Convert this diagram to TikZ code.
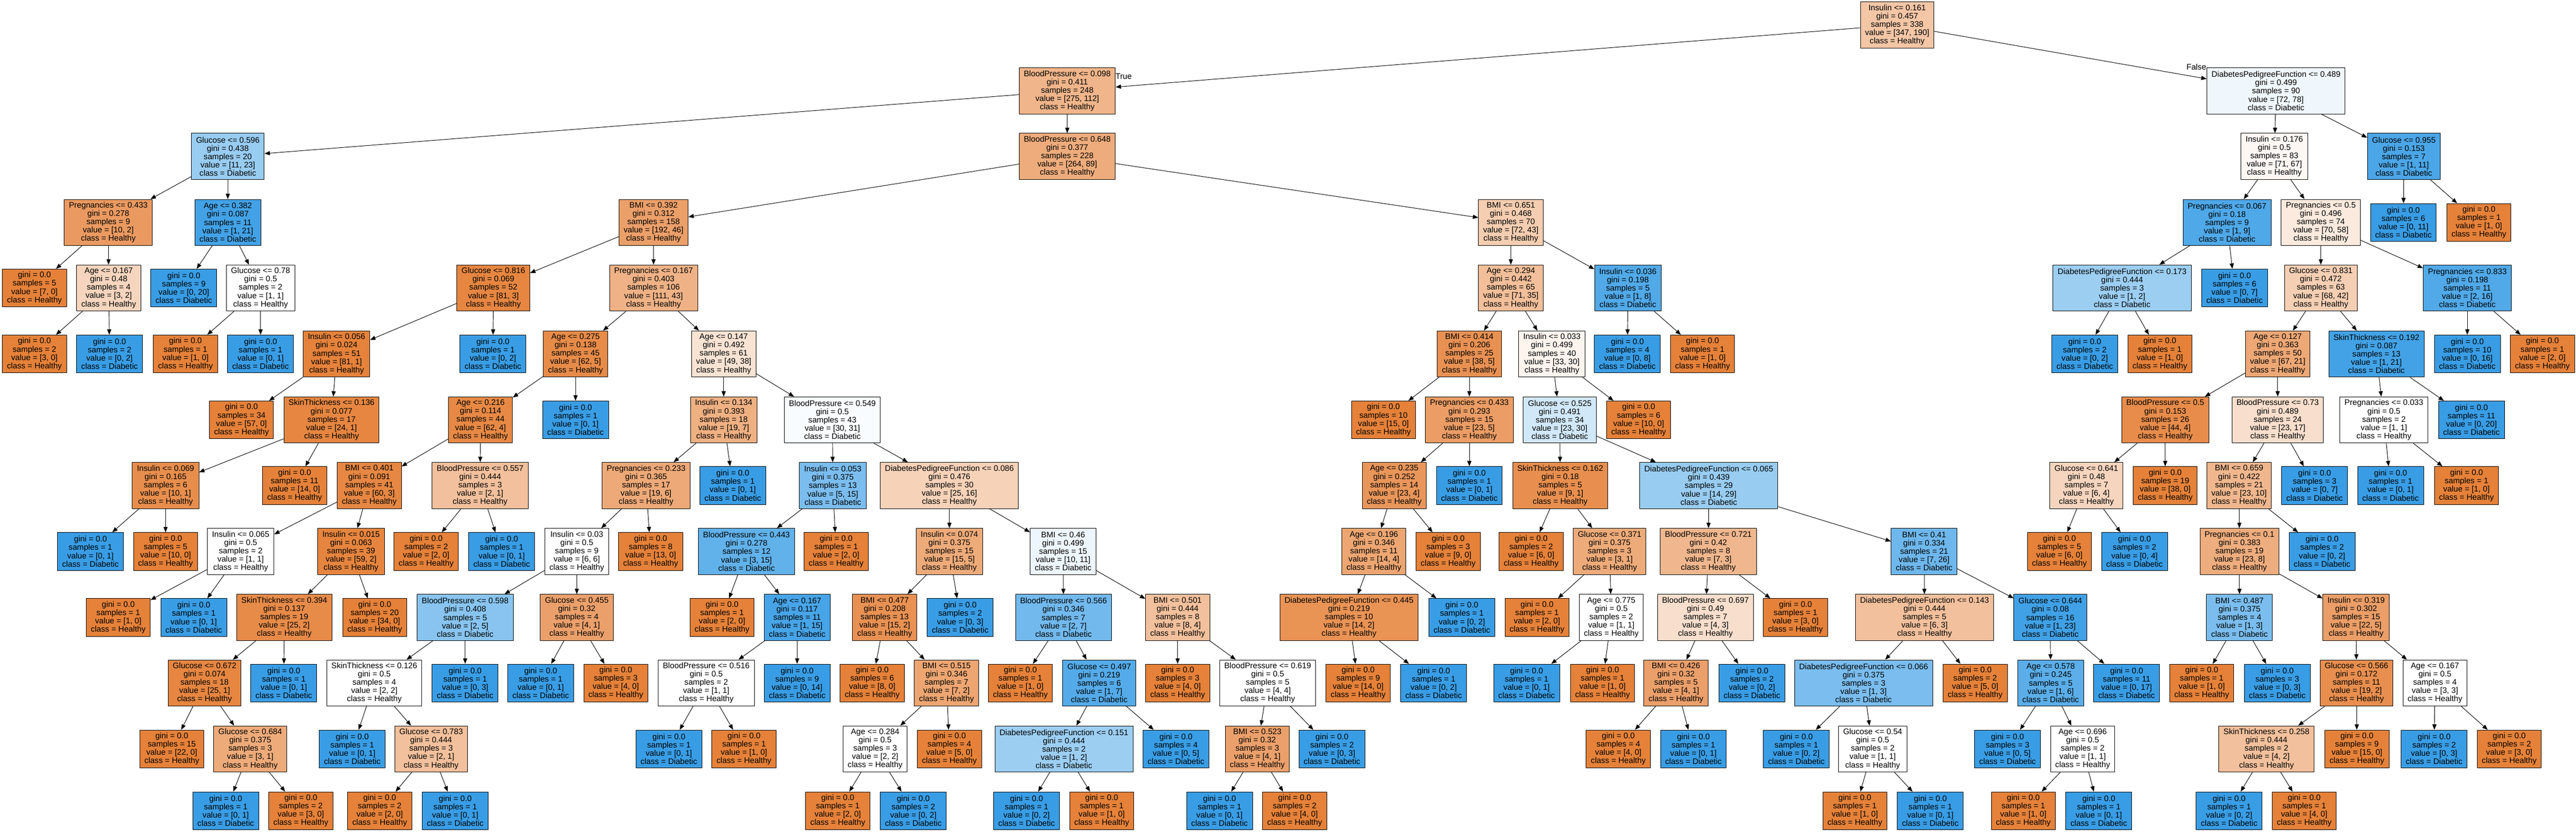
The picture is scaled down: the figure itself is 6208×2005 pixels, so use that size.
\documentclass[tikz,border=0pt]{standalone}
\usepackage{fontspec}
\setmainfont{Liberation Sans}
\usetikzlibrary{arrows.meta}
\definecolor{ho}{HTML}{E58139}
\definecolor{db}{HTML}{399DE5}
\newcommand\DTs[6]{#1\\gini = #2\\samples = #3\\value = [#4, #5]\\class = #6}
\newcommand\DTh[3]{gini = 0.0\\samples = #1\\value = [#2, #3]\\class = Healthy}
\newcommand\DTd[3]{gini = 0.0\\samples = #1\\value = [#2, #3]\\class = Diabetic}
\tikzset{
 nd/.style={draw=black, line width=0.6pt, rectangle, align=center, font=\fontsize{9.7}{10}\selectfont, inner xsep=5.6pt, inner ysep=0pt, minimum height=55.5pt},
 lf/.style={nd, minimum height=45.5pt},
 lh/.style={lf, fill=ho},
 ld/.style={lf, fill=db},
 ar/.style={-{Triangle[length=6.5pt,width=5pt]}, line width=0.6pt},
 lbl/.style={font=\fontsize{9.7}{10}\selectfont, inner sep=0pt}
}
\begin{document}
\begin{tikzpicture}[x=0.5pt,y=-0.5pt]
\useasboundingbox (0,0) rectangle (6208,2005);
% rank 0
\node[nd,fill=ho!45] (A) at (4572,60) {\DTs{Insulin <= 0.161}{0.457}{338}{347}{190}{Healthy}};
% rank 1
\node[nd,fill=ho!59] (B) at (2572,219) {\DTs{BloodPressure <= 0.098}{0.411}{248}{275}{112}{Healthy}};
\node[nd,fill=db!8] (C) at (5485,219) {\DTs{DiabetesPedigreeFunction <= 0.489}{0.499}{90}{72}{78}{Diabetic}};
\node[lbl] (tl) at (2708,184) {True};
\node[lbl] (fl) at (5293,161) {False};
% rank 2
\node[nd,fill=db!52] (D) at (549,377) {\DTs{Glucose <= 0.596}{0.438}{20}{11}{23}{Diabetic}};
\node[nd,fill=ho!66] (E) at (2572,377) {\DTs{BloodPressure <= 0.648}{0.377}{228}{264}{89}{Healthy}};
\node[nd,fill=ho!6] (F) at (5481,377) {\DTs{Insulin <= 0.176}{0.5}{83}{71}{67}{Healthy}};
\node[nd,fill=db!91] (G) at (5793,377) {\DTs{Glucose <= 0.955}{0.153}{7}{1}{11}{Diabetic}};
% rank 3
\node[nd,fill=ho!80] (H) at (261,536) {\DTs{Pregnancies <= 0.433}{0.278}{9}{10}{2}{Healthy}};
\node[nd,fill=db!95] (I) at (549,536) {\DTs{Age <= 0.382}{0.087}{11}{1}{21}{Diabetic}};
\node[nd,fill=ho!76] (J) at (1575,536) {\DTs{BMI <= 0.392}{0.312}{158}{192}{46}{Healthy}};
\node[nd,fill=ho!40] (K) at (3641,536) {\DTs{BMI <= 0.651}{0.468}{70}{72}{43}{Healthy}};
\node[nd,fill=db!89] (L) at (5367,536) {\DTs{Pregnancies <= 0.067}{0.18}{9}{1}{9}{Diabetic}};
\node[nd,fill=ho!17] (M) at (5593,536) {\DTs{Pregnancies <= 0.5}{0.496}{74}{70}{58}{Healthy}};
\node[ld] (N) at (5792,536) {\DTd{6}{0}{11}};
\node[lh] (O) at (5974,536) {\DTh{1}{1}{0}};
% rank 4
\node[lh] (P1) at (83,694) {\DTh{5}{7}{0}};
\node[nd,fill=ho!33] (P2) at (262,694) {\DTs{Age <= 0.167}{0.48}{4}{3}{2}{Healthy}};
\node[ld] (P3) at (443,694) {\DTd{9}{0}{20}};
\node[nd,fill=white] (P4) at (628,694) {\DTs{Glucose <= 0.78}{0.5}{2}{1}{1}{Healthy}};
\node[nd,fill=ho!96] (P5) at (1189,694) {\DTs{Glucose <= 0.816}{0.069}{52}{81}{3}{Healthy}};
\node[nd,fill=ho!61] (P6) at (1575,694) {\DTs{Pregnancies <= 0.167}{0.403}{106}{111}{43}{Healthy}};
\node[nd,fill=ho!51] (P7) at (3641,694) {\DTs{Age <= 0.294}{0.442}{65}{71}{35}{Healthy}};
\node[nd,fill=db!88] (P8) at (3923,694) {\DTs{Insulin <= 0.036}{0.198}{5}{1}{8}{Diabetic}};
\node[nd,fill=db!50] (P9) at (5114,694) {\DTs{DiabetesPedigreeFunction <= 0.173}{0.444}{3}{1}{2}{Diabetic}};
\node[ld] (P10) at (5385,694) {\DTd{6}{0}{7}};
\node[nd,fill=ho!38] (P11) at (5593,694) {\DTs{Glucose <= 0.831}{0.472}{63}{68}{42}{Healthy}};
\node[nd,fill=db!88] (P12) at (5946,694) {\DTs{Pregnancies <= 0.833}{0.198}{11}{2}{16}{Diabetic}};
% rank 5
\node[lh] (Q1) at (83,853) {\DTh{2}{3}{0}};
\node[ld] (Q2) at (264,853) {\DTd{2}{0}{2}};
\node[lh] (Q3) at (447,853) {\DTh{1}{1}{0}};
\node[ld] (Q4) at (628,853) {\DTd{1}{0}{1}};
\node[nd,fill=ho!99] (Q5) at (811,853) {\DTs{Insulin <= 0.056}{0.024}{51}{81}{1}{Healthy}};
\node[ld] (Q6) at (1188,853) {\DTd{1}{0}{2}};
\node[nd,fill=ho!92] (Q7) at (1387,853) {\DTs{Age <= 0.275}{0.138}{45}{62}{5}{Healthy}};
\node[nd,fill=ho!22] (Q8) at (1744,853) {\DTs{Age <= 0.147}{0.492}{61}{49}{38}{Healthy}};
\node[nd,fill=ho!87] (Q9) at (3541,853) {\DTs{BMI <= 0.414}{0.206}{25}{38}{5}{Healthy}};
\node[nd,fill=ho!9] (Q10) at (3740,853) {\DTs{Insulin <= 0.033}{0.499}{40}{33}{30}{Healthy}};
\node[ld] (Q11) at (3922,853) {\DTd{4}{0}{8}};
\node[lh] (Q12) at (4103,853) {\DTh{1}{1}{0}};
\node[ld] (Q13) at (5024,853) {\DTd{2}{0}{2}};
\node[lh] (Q14) at (5205,853) {\DTh{1}{1}{0}};
\node[nd,fill=ho!69] (Q15) at (5489,853) {\DTs{Age <= 0.127}{0.363}{50}{67}{21}{Healthy}};
\node[nd,fill=db!95] (Q16) at (5727,853) {\DTs{SkinThickness <= 0.192}{0.087}{13}{1}{21}{Diabetic}};
\node[ld] (Q17) at (5946,853) {\DTd{10}{0}{16}};
\node[lh] (Q18) at (6127,853) {\DTh{1}{2}{0}};
% rank 6
\node[lh] (R1) at (582,1012) {\DTh{34}{57}{0}};
\node[nd,fill=ho!96] (R2) at (799,1012) {\DTs{SkinThickness <= 0.136}{0.077}{17}{24}{1}{Healthy}};
\node[nd,fill=ho!94] (R3) at (1158,1012) {\DTs{Age <= 0.216}{0.114}{44}{62}{4}{Healthy}};
\node[ld] (R4) at (1387,1012) {\DTd{1}{0}{1}};
\node[nd,fill=ho!63] (R5) at (1744,1012) {\DTs{Insulin <= 0.134}{0.393}{18}{19}{7}{Healthy}};
\node[nd,fill=db!3] (R6) at (2006,1012) {\DTs{BloodPressure <= 0.549}{0.5}{43}{30}{31}{Diabetic}};
\node[lh] (R7) at (3334,1012) {\DTh{10}{15}{0}};
\node[nd,fill=ho!78] (R8) at (3541,1012) {\DTs{Pregnancies <= 0.433}{0.293}{15}{23}{5}{Healthy}};
\node[nd,fill=db!23] (R9) at (3759,1012) {\DTs{Glucose <= 0.525}{0.491}{34}{23}{30}{Diabetic}};
\node[lh] (R10) at (3949,1012) {\DTh{6}{10}{0}};
\node[nd,fill=ho!91] (R11) at (5218,1012) {\DTs{BloodPressure <= 0.5}{0.153}{26}{44}{4}{Healthy}};
\node[nd,fill=ho!26] (R12) at (5489,1012) {\DTs{BloodPressure <= 0.73}{0.489}{24}{23}{17}{Healthy}};
\node[nd,fill=white] (R13) at (5745,1012) {\DTs{Pregnancies <= 0.033}{0.5}{2}{1}{1}{Healthy}};
\node[ld] (R14) at (5956,1012) {\DTd{11}{0}{20}};
% rank 7
\node[nd,fill=ho!90] (S1) at (399,1170) {\DTs{Insulin <= 0.069}{0.165}{6}{10}{1}{Healthy}};
\node[lh] (S2) at (710,1170) {\DTh{11}{14}{0}};
\node[nd,fill=ho!95] (S3) at (890,1170) {\DTs{BMI <= 0.401}{0.091}{41}{60}{3}{Healthy}};
\node[nd,fill=ho!50] (S4) at (1157,1170) {\DTs{BloodPressure <= 0.557}{0.444}{3}{2}{1}{Healthy}};
\node[nd,fill=ho!68] (S5) at (1557,1170) {\DTs{Pregnancies <= 0.233}{0.365}{17}{19}{6}{Healthy}};
\node[ld] (S6) at (1766,1170) {\DTd{1}{0}{1}};
\node[nd,fill=db!67] (S7) at (2007,1170) {\DTs{Insulin <= 0.053}{0.375}{13}{5}{15}{Diabetic}};
\node[nd,fill=ho!36] (S8) at (2288,1170) {\DTs{DiabetesPedigreeFunction <= 0.086}{0.476}{30}{25}{16}{Healthy}};
\node[nd,fill=ho!83] (S9) at (3360,1170) {\DTs{Age <= 0.235}{0.252}{14}{23}{4}{Healthy}};
\node[ld] (S10) at (3541,1170) {\DTd{1}{0}{1}};
\node[nd,fill=ho!89] (S11) at (3760,1170) {\DTs{SkinThickness <= 0.162}{0.18}{5}{9}{1}{Healthy}};
\node[nd,fill=db!52] (S12) at (4118,1170) {\DTs{DiabetesPedigreeFunction <= 0.065}{0.439}{29}{14}{29}{Diabetic}};
\node[nd,fill=ho!33] (S13) at (5028,1170) {\DTs{Glucose <= 0.641}{0.48}{7}{6}{4}{Healthy}};
\node[lh] (S14) at (5218,1170) {\DTh{19}{38}{0}};
\node[nd,fill=ho!57] (S15) at (5396,1170) {\DTs{BMI <= 0.659}{0.422}{21}{23}{10}{Healthy}};
\node[ld] (S16) at (5578,1170) {\DTd{3}{0}{7}};
\node[ld] (S17) at (5761,1170) {\DTd{1}{0}{1}};
\node[lh] (S18) at (5944,1170) {\DTh{1}{1}{0}};
% rank 8
\node[ld] (T1) at (218,1329) {\DTd{1}{0}{1}};
\node[lh] (T2) at (399,1329) {\DTh{5}{10}{0}};
\node[nd,fill=white] (T3) at (580,1329) {\DTs{Insulin <= 0.065}{0.5}{2}{1}{1}{Healthy}};
\node[nd,fill=ho!97] (T4) at (846,1329) {\DTs{Insulin <= 0.015}{0.063}{39}{59}{2}{Healthy}};
\node[lh] (T5) at (1027,1329) {\DTh{2}{2}{0}};
\node[ld] (T6) at (1209,1329) {\DTd{1}{0}{1}};
\node[nd,fill=white] (T7) at (1390,1329) {\DTs{Insulin <= 0.03}{0.5}{9}{6}{6}{Healthy}};
\node[lh] (T8) at (1568,1329) {\DTh{8}{13}{0}};
\node[nd,fill=db!80] (T9) at (1799,1329) {\DTs{BloodPressure <= 0.443}{0.278}{12}{3}{15}{Diabetic}};
\node[lh] (T10) at (2015,1329) {\DTh{1}{2}{0}};
\node[nd,fill=ho!67] (T11) at (2288,1329) {\DTs{Insulin <= 0.074}{0.375}{15}{15}{5}{Healthy}};
\node[nd,fill=db!9] (T12) at (2562,1329) {\DTs{BMI <= 0.46}{0.499}{15}{10}{11}{Diabetic}};
\node[nd,fill=ho!71] (T13) at (3311,1329) {\DTs{Age <= 0.196}{0.346}{11}{14}{4}{Healthy}};
\node[lh] (T14) at (3490,1329) {\DTh{3}{9}{0}};
\node[lh] (T15) at (3690,1329) {\DTh{2}{6}{0}};
\node[nd,fill=ho!67] (T16) at (3879,1329) {\DTs{Glucose <= 0.371}{0.375}{3}{3}{1}{Healthy}};
\node[nd,fill=ho!57] (T17) at (4117,1329) {\DTs{BloodPressure <= 0.721}{0.42}{8}{7}{3}{Healthy}};
\node[nd,fill=db!73] (T18) at (4637,1329) {\DTs{BMI <= 0.41}{0.334}{21}{7}{26}{Diabetic}};
\node[lh] (T19) at (4963,1329) {\DTh{5}{6}{0}};
\node[ld] (T20) at (5144,1329) {\DTd{2}{0}{4}};
\node[nd,fill=ho!65] (T21) at (5397,1329) {\DTs{Pregnancies <= 0.1}{0.383}{19}{23}{8}{Healthy}};
\node[ld] (T22) at (5596,1329) {\DTd{2}{0}{2}};
% rank 9
\node[lh] (U1) at (285,1488) {\DTh{1}{1}{0}};
\node[ld] (U2) at (467,1488) {\DTd{1}{0}{1}};
\node[nd,fill=ho!92] (U3) at (685,1488) {\DTs{SkinThickness <= 0.394}{0.137}{19}{25}{2}{Healthy}};
\node[lh] (U4) at (903,1488) {\DTh{20}{34}{0}};
\node[nd,fill=db!60] (U5) at (1121,1488) {\DTs{BloodPressure <= 0.598}{0.408}{5}{2}{5}{Diabetic}};
\node[nd,fill=ho!75] (U6) at (1390,1488) {\DTs{Glucose <= 0.455}{0.32}{4}{4}{1}{Healthy}};
\node[lh] (U7) at (1740,1488) {\DTh{1}{2}{0}};
\node[nd,fill=db!93] (U8) at (1921,1488) {\DTs{Age <= 0.167}{0.117}{11}{1}{15}{Diabetic}};
\node[nd,fill=ho!87] (U9) at (2132,1488) {\DTs{BMI <= 0.477}{0.208}{13}{15}{2}{Healthy}};
\node[ld] (U10) at (2314,1488) {\DTd{2}{0}{3}};
\node[nd,fill=db!71] (U11) at (2563,1488) {\DTs{BloodPressure <= 0.566}{0.346}{7}{2}{7}{Diabetic}};
\node[nd,fill=ho!50] (U12) at (2838,1488) {\DTs{BMI <= 0.501}{0.444}{8}{8}{4}{Healthy}};
\node[nd,fill=ho!86] (U13) at (3251,1488) {\DTs{DiabetesPedigreeFunction <= 0.445}{0.219}{10}{14}{2}{Healthy}};
\node[ld] (U14) at (3523,1488) {\DTd{1}{0}{2}};
\node[lh] (U15) at (3704,1488) {\DTh{1}{2}{0}};
\node[nd,fill=white] (U16) at (3883,1488) {\DTs{Age <= 0.775}{0.5}{2}{1}{1}{Healthy}};
\node[nd,fill=ho!25] (U17) at (4110,1488) {\DTs{BloodPressure <= 0.697}{0.49}{7}{4}{3}{Healthy}};
\node[lh] (U18) at (4327,1488) {\DTh{1}{3}{0}};
\node[nd,fill=ho!50] (U19) at (4638,1488) {\DTs{DiabetesPedigreeFunction <= 0.143}{0.444}{5}{6}{3}{Healthy}};
\node[nd,fill=db!96] (U20) at (4941,1488) {\DTs{Glucose <= 0.644}{0.08}{16}{1}{23}{Diabetic}};
\node[nd,fill=db!67] (U21) at (5397,1488) {\DTs{BMI <= 0.487}{0.375}{4}{1}{3}{Diabetic}};
\node[nd,fill=ho!77] (U22) at (5678,1488) {\DTs{Insulin <= 0.319}{0.302}{15}{22}{5}{Healthy}};
% rank 10
\node[nd,fill=ho!96] (V1) at (493,1646) {\DTs{Glucose <= 0.672}{0.074}{18}{25}{1}{Healthy}};
\node[ld] (V2) at (684,1646) {\DTd{1}{0}{1}};
\node[nd,fill=white] (V3) at (902,1646) {\DTs{SkinThickness <= 0.126}{0.5}{4}{2}{2}{Healthy}};
\node[ld] (V4) at (1121,1646) {\DTd{1}{0}{3}};
\node[ld] (V5) at (1303,1646) {\DTd{1}{0}{1}};
\node[lh] (V6) at (1484,1646) {\DTh{3}{4}{0}};
\node[nd,fill=white] (V7) at (1702,1646) {\DTs{BloodPressure <= 0.516}{0.5}{2}{1}{1}{Healthy}};
\node[ld] (V8) at (1921,1646) {\DTd{9}{0}{14}};
\node[lh] (V9) at (2102,1646) {\DTh{6}{8}{0}};
\node[nd,fill=ho!71] (V10) at (2281,1646) {\DTs{BMI <= 0.515}{0.346}{7}{7}{2}{Healthy}};
\node[lh] (V11) at (2459,1646) {\DTh{1}{1}{0}};
\node[nd,fill=db!86] (V12) at (2649,1646) {\DTs{Glucose <= 0.497}{0.219}{6}{1}{7}{Diabetic}};
\node[lh] (V13) at (2838,1646) {\DTh{3}{4}{0}};
\node[nd,fill=white] (V14) at (3055,1646) {\DTs{BloodPressure <= 0.619}{0.5}{5}{4}{4}{Healthy}};
\node[lh] (V15) at (3273,1646) {\DTh{9}{14}{0}};
\node[ld] (V16) at (3455,1646) {\DTd{1}{0}{2}};
\node[ld] (V17) at (3679,1646) {\DTd{1}{0}{1}};
\node[lh] (V18) at (3862,1646) {\DTh{1}{1}{0}};
\node[nd,fill=ho!75] (V19) at (4039,1646) {\DTs{BMI <= 0.426}{0.32}{5}{4}{1}{Healthy}};
\node[ld] (V20) at (4222,1646) {\DTd{2}{0}{2}};
\node[nd,fill=db!67] (V21) at (4491,1646) {\DTs{DiabetesPedigreeFunction <= 0.066}{0.375}{3}{1}{3}{Diabetic}};
\node[lh] (V22) at (4760,1646) {\DTh{2}{5}{0}};
\node[nd,fill=db!83] (V23) at (4942,1646) {\DTs{Age <= 0.578}{0.245}{5}{1}{6}{Diabetic}};
\node[ld] (V24) at (5125,1646) {\DTd{11}{0}{17}};
\node[lh] (V25) at (5306,1646) {\DTh{1}{1}{0}};
\node[ld] (V26) at (5488,1646) {\DTd{3}{0}{3}};
\node[nd,fill=ho!89] (V27) at (5679,1646) {\DTs{Glucose <= 0.566}{0.172}{11}{19}{2}{Healthy}};
\node[nd,fill=white] (V28) at (5868,1646) {\DTs{Age <= 0.167}{0.5}{4}{3}{3}{Healthy}};
% rank 11
\node[lh] (W1) at (414,1805) {\DTh{15}{22}{0}};
\node[nd,fill=ho!67] (W2) at (603,1805) {\DTs{Glucose <= 0.684}{0.375}{3}{3}{1}{Healthy}};
\node[ld] (W3) at (849,1805) {\DTd{1}{0}{1}};
\node[nd,fill=ho!50] (W4) at (1039,1805) {\DTs{Glucose <= 0.783}{0.444}{3}{2}{1}{Healthy}};
\node[ld] (W5) at (1612,1805) {\DTd{1}{0}{1}};
\node[lh] (W6) at (1793,1805) {\DTh{1}{1}{0}};
\node[nd,fill=white] (W7) at (2109,1805) {\DTs{Age <= 0.284}{0.5}{3}{2}{2}{Healthy}};
\node[lh] (W8) at (2288,1805) {\DTh{4}{5}{0}};
\node[nd,fill=db!50] (W9) at (2564,1805) {\DTs{DiabetesPedigreeFunction <= 0.151}{0.444}{2}{1}{2}{Diabetic}};
\node[ld] (W10) at (2834,1805) {\DTd{4}{0}{5}};
\node[nd,fill=ho!75] (W11) at (3030,1805) {\DTs{BMI <= 0.523}{0.32}{3}{4}{1}{Healthy}};
\node[ld] (W12) at (3210,1805) {\DTd{2}{0}{3}};
\node[lh] (W13) at (3900,1805) {\DTh{4}{4}{0}};
\node[ld] (W14) at (4081,1805) {\DTd{1}{0}{1}};
\node[ld] (W15) at (4329,1805) {\DTd{1}{0}{2}};
\node[nd,fill=white] (W16) at (4513,1805) {\DTs{Glucose <= 0.54}{0.5}{2}{1}{1}{Healthy}};
\node[ld] (W17) at (4838,1805) {\DTd{3}{0}{5}};
\node[nd,fill=white] (W18) at (5019,1805) {\DTs{Age <= 0.696}{0.5}{2}{1}{1}{Healthy}};
\node[nd,fill=ho!50] (W19) at (5462,1805) {\DTs{SkinThickness <= 0.258}{0.444}{2}{4}{2}{Healthy}};
\node[lh] (W20) at (5680,1805) {\DTh{9}{15}{0}};
\node[ld] (W21) at (5866,1805) {\DTd{2}{0}{3}};
\node[lh] (W22) at (6047,1805) {\DTh{2}{3}{0}};
% rank 12
\node[ld] (X1) at (544,1954) {\DTd{1}{0}{1}};
\node[lh] (X2) at (725,1954) {\DTh{2}{3}{0}};
\node[lh] (X3) at (915,1954) {\DTh{2}{2}{0}};
\node[ld] (X4) at (1097,1954) {\DTd{1}{0}{1}};
\node[lh] (X5) at (2019,1954) {\DTh{1}{2}{0}};
\node[ld] (X6) at (2201,1954) {\DTd{2}{0}{2}};
\node[ld] (X7) at (2474,1954) {\DTd{1}{0}{2}};
\node[lh] (X8) at (2655,1954) {\DTh{1}{1}{0}};
\node[ld] (X9) at (2939,1954) {\DTd{1}{0}{1}};
\node[lh] (X10) at (3120,1954) {\DTh{2}{4}{0}};
\node[lh] (X11) at (4470,1954) {\DTh{1}{1}{0}};
\node[ld] (X12) at (4652,1954) {\DTd{1}{0}{1}};
\node[lh] (X13) at (4876,1954) {\DTh{1}{1}{0}};
\node[ld] (X14) at (5058,1954) {\DTd{1}{0}{1}};
\node[ld] (X15) at (5372,1954) {\DTd{1}{0}{2}};
\node[lh] (X16) at (5553,1954) {\DTh{1}{4}{0}};
% edges
\foreach \p/\c in {A/B,A/C,B/D,B/E,C/F,C/G,D/H,D/I,E/J,E/K,F/L,F/M,G/N,G/O,
 H/P1,H/P2,I/P3,I/P4,J/P5,J/P6,K/P7,K/P8,L/P9,L/P10,M/P11,M/P12,
 P2/Q1,P2/Q2,P4/Q3,P4/Q4,P5/Q5,P5/Q6,P6/Q7,P6/Q8,P7/Q9,P7/Q10,P8/Q11,P8/Q12,P9/Q13,P9/Q14,P11/Q15,P11/Q16,P12/Q17,P12/Q18,
 Q5/R1,Q5/R2,Q7/R3,Q7/R4,Q8/R5,Q8/R6,Q9/R7,Q9/R8,Q10/R9,Q10/R10,Q15/R11,Q15/R12,Q16/R13,Q16/R14,
 R2/S1,R2/S2,R3/S3,R3/S4,R5/S5,R5/S6,R6/S7,R6/S8,R8/S9,R8/S10,R9/S11,R9/S12,R11/S13,R11/S14,R12/S15,R12/S16,R13/S17,R13/S18,
 S1/T1,S1/T2,S3/T3,S3/T4,S4/T5,S4/T6,S5/T7,S5/T8,S7/T9,S7/T10,S8/T11,S8/T12,S9/T13,S9/T14,S11/T15,S11/T16,S12/T17,S12/T18,S13/T19,S13/T20,S15/T21,S15/T22,
 T3/U1,T3/U2,T4/U3,T4/U4,T7/U5,T7/U6,T9/U7,T9/U8,T11/U9,T11/U10,T12/U11,T12/U12,T13/U13,T13/U14,T16/U15,T16/U16,T17/U17,T17/U18,T18/U19,T18/U20,T21/U21,T21/U22,
 U3/V1,U3/V2,U5/V3,U5/V4,U6/V5,U6/V6,U8/V7,U8/V8,U9/V9,U9/V10,U11/V11,U11/V12,U12/V13,U12/V14,U13/V15,U13/V16,U16/V17,U16/V18,U17/V19,U17/V20,U19/V21,U19/V22,U20/V23,U20/V24,U21/V25,U21/V26,U22/V27,U22/V28,
 V1/W1,V1/W2,V3/W3,V3/W4,V7/W5,V7/W6,V10/W7,V10/W8,V12/W9,V12/W10,V14/W11,V14/W12,V19/W13,V19/W14,V21/W15,V21/W16,V23/W17,V23/W18,V27/W19,V27/W20,V28/W21,V28/W22,
 W2/X1,W2/X2,W4/X3,W4/X4,W7/X5,W7/X6,W9/X7,W9/X8,W11/X9,W11/X10,W16/X11,W16/X12,W18/X13,W18/X14,W19/X15,W19/X16}
 \draw[ar] (\p) -- (\c);
\end{tikzpicture}
\end{document}
